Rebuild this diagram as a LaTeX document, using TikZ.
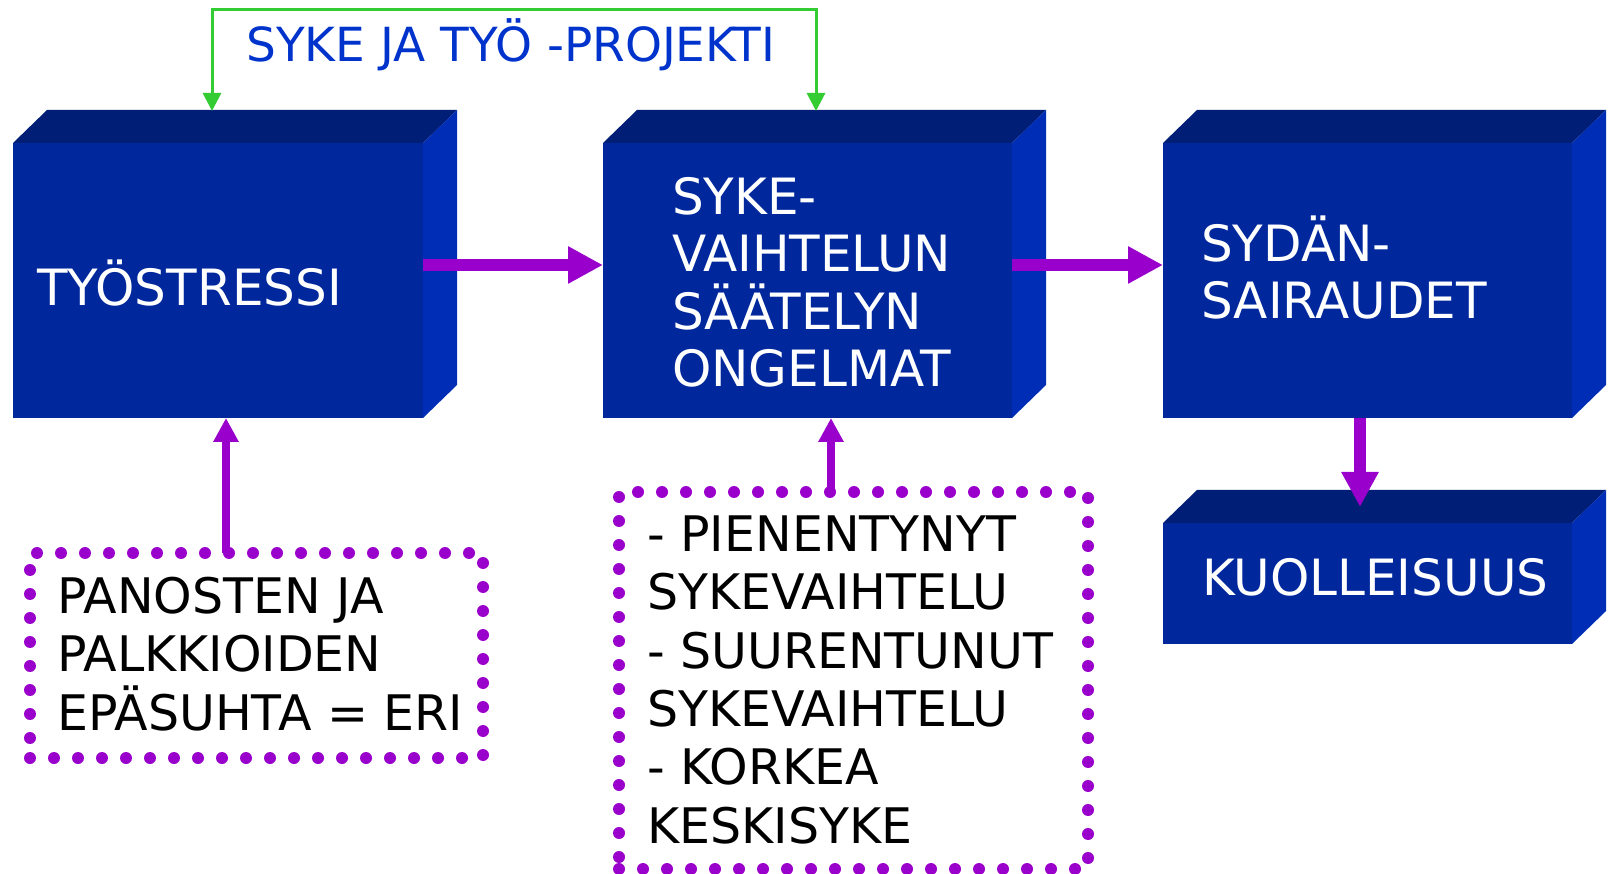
\documentclass[tikz,border=0pt]{standalone}
\usepackage{fontspec}
\setmainfont{DejaVu Sans}
\usetikzlibrary{arrows.meta}

\definecolor{faceblue}{RGB}{0,40,156}
\definecolor{topblue}{RGB}{0,30,118}
\definecolor{sideblue}{RGB}{0,45,182}
\definecolor{arrowpurple}{RGB}{153,0,204}
\definecolor{linkgreen}{RGB}{51,204,51}
\definecolor{titleblue}{RGB}{0,51,204}

% multi-line labels are anchored at the baseline of their last line
\tikzset{
  front/.style={fill=faceblue, draw=none, inner sep=0pt, outer sep=0pt},
  boxtext/.style={text=white, font=\fontsize{50}{57.5}\selectfont, align=left,
    anchor=base west, inner sep=0pt},
  notetext/.style={text=black, font=\fontsize{49}{58.3}\selectfont, align=left,
    anchor=base west, inner sep=0pt},
  titletext/.style={text=titleblue, font=\fontsize{47}{54}\selectfont,
    anchor=base west, inner sep=0pt},
  dotframe/.style={draw=arrowpurple, line width=12pt, line cap=round,
    dash pattern=on 0pt off 24pt, inner sep=0pt, outer sep=0pt},
  flow/.style={draw=arrowpurple, line width=12pt,
    -{Triangle[width=35pt,length=35pt]}},
  feed/.style={draw=arrowpurple, line width=8pt,
    -{Triangle[width=24pt,length=24pt]}},
  link/.style={draw=linkgreen, line width=3pt,
    {Triangle[width=18pt,length=18pt]}-{Triangle[width=18pt,length=18pt]}},
}

% solid block: front face as a named node, top and right faces behind it
% #1 name, #2 left, #3 top, #4 right, #5 bottom
\newcommand\slab[5]{%
  \node[front, minimum width={(#4-#2)*1pt}, minimum height={(#5-#3)*1pt}]
    (#1) at ({0.5*(#2+#4)},{0.5*(#3+#5)}) {};
  \fill[topblue] (#1.north west) -- ++(34,-33)
    -- ([shift={(34,-33)}]#1.north east) -- (#1.north east) -- cycle;
  \fill[sideblue] (#1.north east) -- ++(34,-33)
    -- ([shift={(34,-33)}]#1.south east) -- (#1.south east) -- cycle;
}

\begin{document}
\begin{tikzpicture}[x=1pt, y=-1pt]
\useasboundingbox (0,0) rectangle (1610,874);

% blocks
\slab{b1}{13}{143}{423}{418}
\slab{b2}{603}{143}{1012}{418}
\slab{b3}{1163}{143}{1572}{418}
\slab{b4}{1163}{523}{1572}{644}

% dotted note frames
\node[dotframe, minimum width=453pt, minimum height=205pt] (d1) at (256.5,655.5) {};
\node[dotframe, minimum width=469pt, minimum height=377pt] (d2) at (853.5,680.5) {};

% block labels
\node[boxtext] (t1) at (37,306) {TYÖSTRESSI};
\node[boxtext] (t2) at (672,387) {SYKE-\\VAIHTELUN\\SÄÄTELYN\\ONGELMAT};
\node[boxtext] (t3) at (1201,319) {SYDÄN-\\SAIRAUDET};
\node[boxtext] (t4) at (1202,595) {KUOLLEISUUS};

% note texts
\node[notetext] (n1) at (57,730) {PANOSTEN JA\\PALKKIOIDEN\\EPÄSUHTA = ERI};
\node[notetext] (n2) at (647,843) {- PIENENTYNYT\\SYKEVAIHTELU\\- SUURENTUNUT\\SYKEVAIHTELU\\- KORKEA\\KESKISYKE};

% project label
\node[titletext] (lbl) at (246,62) {SYKE JA TYÖ -PROJEKTI};

% helper coordinates for connector routes
\coordinate (lane) at (0,265);
\coordinate (drop) at (1360,0);
\coordinate (b4rim) at (1360,507);
\coordinate (f1) at (226,553);
\coordinate (f2) at (831,492);
\coordinate (g1) at (212,111);
\coordinate (g2) at (816,111);
\coordinate (gtop) at (0,10);

% main flow
\draw[flow] (b1.east |- lane) -- (b2.west |- lane);
\draw[flow] (b2.east |- lane) -- (b3.west |- lane);
\draw[flow] (b3.south -| drop) -- (b4rim);

% notes feeding into blocks
\draw[feed] (f1) -- (f1 |- b1.south);
\draw[feed] (f2) -- (f2 |- b2.south);

% project bracket
\draw[link] (g1) -- (g1 |- gtop) -- (g2 |- gtop) -- (g2);
\end{tikzpicture}
\end{document}
